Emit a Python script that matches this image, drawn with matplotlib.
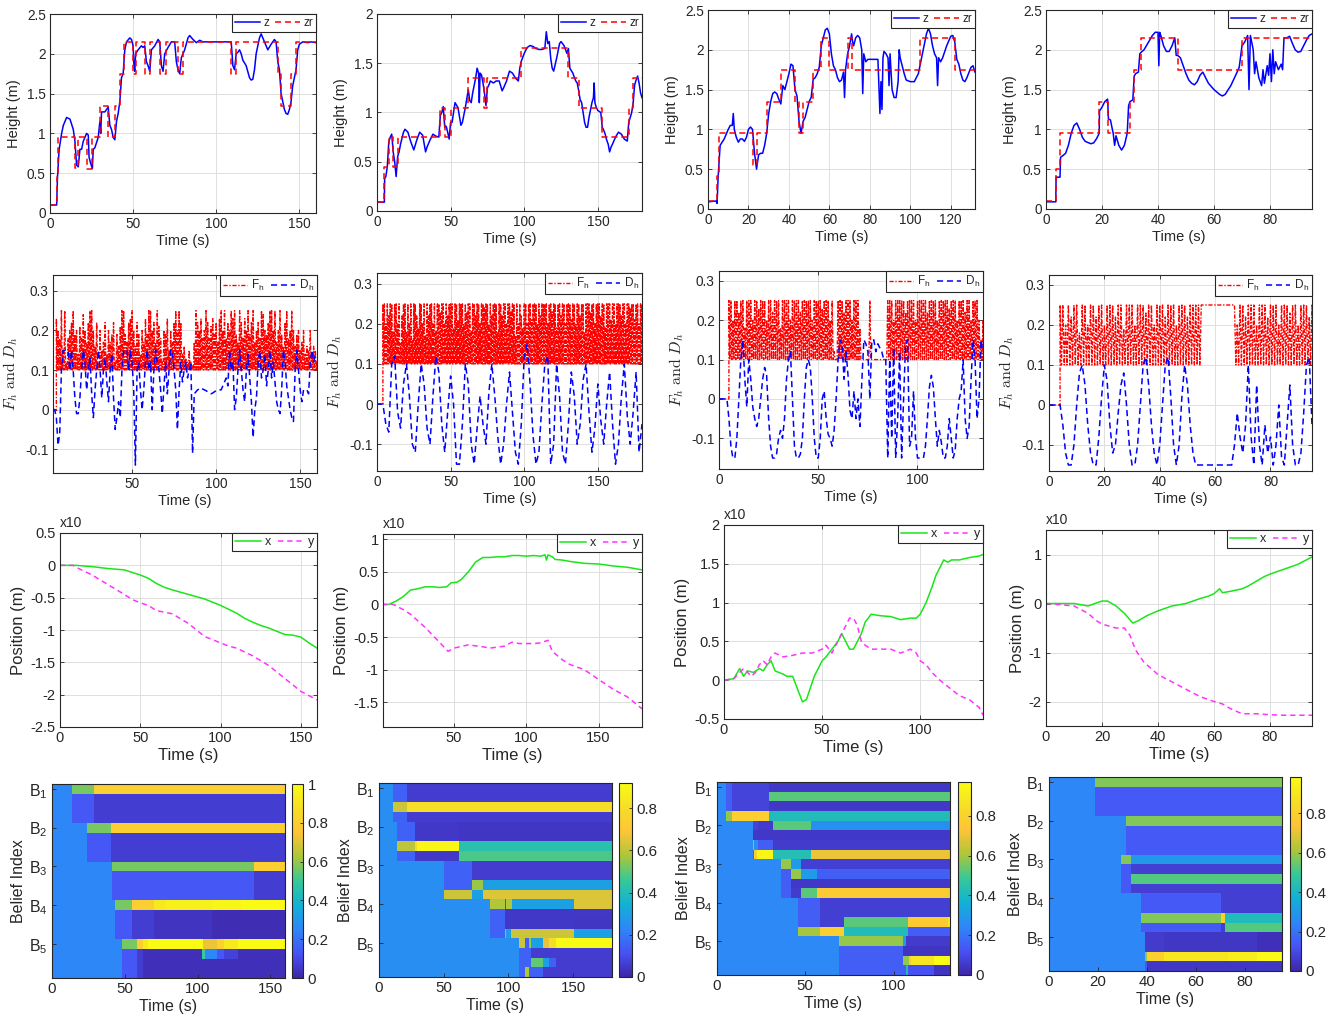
import numpy as np
import matplotlib
matplotlib.use('Agg')
import matplotlib.pyplot as plt
from matplotlib.colors import LinearSegmentedColormap, Normalize
from matplotlib.ticker import FuncFormatter

plt.rcParams['font.family'] = ['Liberation Sans', 'DejaVu Sans']
plt.rcParams['mathtext.fontset'] = 'cm'
plt.rcParams['axes.unicode_minus'] = False

# ---------------------------------------------------------------- data
T_END = [160, 180, 132, 95]

# Row 1: height z (t, value) and reference zr steps (t_start, value)
Z0 = [(0,0.1),(4,0.1),(4.5,0.45),(5.5,0.8),(7,1.0),(8,1.1),(10,1.2),(12,1.18),(14,1.05),(15,0.9),(16,0.6),(17,0.58),
      (18,0.8),(19,0.8),(20,0.9),(22,1.0),(23,0.98),(23.5,0.7),(24.5,0.62),(25.5,0.56),(26,0.8),(27,0.82),(29,0.95),
      (30,1.15),(30.5,1.0),(31,1.27),(33,1.27),(35,1.33),(36,1.1),(37,1.05),(38,0.95),(39,0.92),(40,1.15),(41,1.25),
      (42,1.4),(43,1.7),(44,1.75),(45,2.05),(46,2.15),(48,2.2),(49,2.18),(50,2.1),(50.5,1.85),(51,1.78),(51.5,2.0),
      (53,2.05),(55,2.1),(56,2.08),(57,2.1),(58,1.9),(59,1.85),(60,1.78),(61,2.05),(63,2.1),(65,2.18),(66,2.15),
      (67,1.85),(68,1.78),(69,2.0),(71,2.08),(73,2.15),(75,2.15),(76,1.9),(77,1.8),(78,1.75),(79,1.95),(81,2.05),
      (83,2.2),(84,2.23),(86,2.18),(88,2.14),(90,2.17),(92,2.15),(100,2.15),(109,2.15),(110,1.85),(111,1.8),(112,2.0),
      (113,2.02),(114,2.05),(115,2.0),(116,1.92),(118,1.85),(120,1.7),(121,1.67),(122,1.68),(123,1.8),(124,2.0),
      (126,2.2),(127,2.25),(128,2.2),(130,2.1),(131,2.05),(133,2.12),(135,2.18),(136,2.15),(137,1.9),(138,1.8),
      (139,1.5),(140,1.4),(141,1.3),(142,1.25),(143,1.24),(144,1.3),(145,1.4),(146,1.6),(147,1.7),(148,1.8),
      (149,2.05),(150,2.12),(152,2.15),(155,2.14),(157,2.15),(160,2.14)]
ZR0 = [(0,0.1),(4.5,0.45),(5,0.95),(15,0.57),(17,0.95),(22,0.55),(25.5,0.95),(30,1.35),(35,0.95),(39,1.35),(42,1.75),
       (44.5,2.15),(50,1.75),(52,2.15),(57,1.75),(60,2.15),(66,1.75),(70,2.15),(77,1.75),(80,2.15),(109,1.75),
       (112,2.15),(137,1.75),(139,1.35),(145,1.75),(148,2.15),(160,2.15)]

Z1 = [(0,0.09),(5,0.09),(5.2,0.33),(6,0.35),(7,0.45),(8,0.7),(9,0.75),(10,0.78),(11,0.6),(12,0.5),(13,0.35),(14,0.55),
      (15,0.6),(16,0.68),(18,0.8),(19,0.83),(21,0.8),(23,0.7),(25,0.62),(27,0.72),(29,0.8),(31,0.77),(33,0.6),(34,0.65),
      (36,0.72),(38,0.78),(40,0.76),(42,0.75),(43,0.97),(44,1.0),(45,1.06),(46,0.85),(47,0.86),(48,0.8),(49,0.73),
      (50,0.9),(51,0.9),(52,1.0),(53,1.1),(55,1.05),(57,0.87),(58,0.9),(60,1.05),(62,1.23),(63,1.12),(64,1.1),
      (65,1.2),(67,1.35),(68,1.45),(69,1.4),(69.5,1.1),(70,1.4),(71,1.38),(72,1.3),(73,1.2),(74,1.07),(75,1.25),
      (76,1.28),(77,1.32),(79,1.3),(81,1.32),(83,1.32),(85,1.22),(86,1.25),(88,1.32),(90,1.42),(92,1.4),(94,1.35),
      (96,1.32),(97,1.45),(98,1.52),(100,1.6),(102,1.66),(104,1.68),(106,1.67),(108,1.65),(110,1.64),(112,1.64),
      (114,1.65),(115,1.82),(116,1.7),(117,1.72),(118,1.55),(119,1.45),(120,1.42),(122,1.55),(124,1.7),(125,1.72),
      (127,1.68),(129,1.6),(130,1.65),(131,1.45),(133,1.4),(135,1.32),(136,1.3),(137,1.22),(138,1.13),(139,1.1),
      (140,1.0),(141,0.9),(142,0.85),(143,0.85),(144,0.95),(146,1.1),(147,1.15),(147.5,1.3),(148,1.1),(149,1.05),
      (150,1.02),(152,1.0),(153,0.85),(154,0.82),(155,0.78),(156,0.72),(157,0.68),(158,0.6),(159,0.65),(160,0.68),
      (162,0.75),(164,0.8),(166,0.78),(168,0.73),(170,0.71),(171,0.9),(172,0.95),(173,1.0),(174,1.1),(175,1.28),
      (176,1.33),(177,1.37),(178,1.3),(179,1.2),(180,1.15)]
ZR1 = [(0,0.09),(5,0.45),(8,0.75),(11,0.45),(14,0.75),(43,1.05),(46,0.75),(50,1.05),(62,1.35),(73,1.05),(75,1.35),
       (98,1.65),(130,1.35),(137,1.05),(153,0.75),(171,1.05),(174,1.35),(180,1.35)]

Z2 = [(0,0.09),(4,0.1),(4.5,0.07),(5,0.4),(6,0.8),(8,0.88),(10,1.0),(11,1.05),(12,1.05),(12.5,1.2),(13,1.0),(14,0.9),
      (15,0.84),(16,0.88),(17,0.88),(18,0.85),(19,0.9),(20,1.0),(21,1.03),(22,1.0),(23,0.7),(24,0.5),(25,0.68),
      (26,0.7),(27,0.7),(28,0.8),(29,0.95),(30,1.2),(31,1.35),(32,1.45),(33,1.47),(34,1.45),(35,1.38),(36,1.32),
      (37,1.55),(38,1.5),(39,1.6),(40,1.7),(41,1.82),(42,1.8),(43,1.5),(44,1.42),(45,1.1),(46,0.95),(47,1.1),
      (48,1.15),(49,1.25),(50,1.35),(51,1.4),(52,1.63),(53,1.65),(54,1.7),(55,1.78),(56,2.05),(57,2.15),(58,2.25),
      (59,2.27),(60,2.2),(61,1.95),(62,1.8),(63,1.75),(64,1.65),(65,1.6),(66,1.62),(67,1.72),(67.5,1.4),(68,1.75),
      (69,1.95),(70,2.05),(71,2.2),(71.5,2.1),(72,2.05),(73,2.15),(74,2.18),(75,2.15),(76,2.0),(76.5,1.45),(77,1.95),
      (78,1.85),(79,1.88),(80,1.88),(82,1.88),(84,1.88),(85,1.2),(85.5,1.6),(86,1.25),(86.5,1.9),(87,1.98),(88,1.95),
      (89,1.9),(89.5,1.55),(90,1.95),(91,1.5),(92,1.4),(93,1.4),(94,1.6),(94.5,2.0),(95,1.9),(96,1.8),(97,1.7),
      (98,1.62),(100,1.6),(102,1.6),(104,1.7),(106,1.95),(108,2.2),(109,2.27),(110,2.2),(111,2.05),(112,1.95),
      (113,1.9),(113.5,1.55),(114,1.9),(115,1.85),(116,1.9),(118,2.05),(120,2.17),(121,2.18),(122,2.1),(123,1.88),
      (124,1.82),(125,1.7),(126,1.62),(127,1.6),(128,1.65),(130,1.78),(131,1.8),(132,1.72)]
ZR2 = [(0,0.1),(4.5,0.42),(5.5,0.95),(22,0.55),(24,0.95),(29,1.35),(36,1.75),(43,1.35),(45,0.95),(47,1.35),(52,1.75),
       (56,2.15),(60,1.75),(69,2.15),(71,1.75),(105,2.15),(122,1.75),(132,1.75)]

Z3 = [(0,0.09),(3.5,0.09),(3.6,0.4),(5,0.4),(5.2,0.65),(6,0.67),(7,0.7),(8,0.8),(9,0.95),(10,1.05),(11,1.08),(12,1.0),
      (13,0.9),(14,0.85),(16,0.82),(17,0.83),(18,0.88),(19,0.95),(19.1,1.23),(20,1.28),(21,1.35),(22,1.38),(22.3,1.13),
      (23,1.12),(24,0.95),(24.5,0.8),(25,0.92),(26,0.8),(27,0.74),(28,0.8),(29,0.95),(29.5,1.3),(30,1.35),(31,1.37),
      (31.5,1.67),(32,1.7),(33,1.72),(33.5,1.95),(34,1.97),(35,2.0),(37,2.12),(38,2.18),(39,2.22),(40,2.22),(40.3,1.8),
      (40.6,2.22),(41,2.18),(42,2.05),(43,1.98),(44,1.98),(45,2.05),(46,2.15),(46.5,1.93),(47,1.93),(48,1.9),(49,1.8),
      (50,1.7),(51,1.62),(52,1.58),(53,1.56),(54,1.6),(55,1.68),(56,1.72),(57,1.65),(58,1.58),(60,1.5),(62,1.44),
      (63,1.42),(64,1.44),(66,1.55),(68,1.7),(69,1.78),(70,2.05),(71,2.1),(72,2.18),(72.5,1.5),(73,2.18),(74,2.0),
      (74.5,1.7),(75,1.85),(76,1.65),(77,1.55),(77.5,1.75),(78,1.58),(79,1.8),(79.5,1.68),(80,1.95),(80.5,1.6),
      (81,2.0),(81.5,1.7),(82,1.85),(83,1.75),(84,1.82),(84.5,1.75),(85,2.15),(86,2.15),(87,2.17),(88,2.08),(89,2.0),
      (90,1.97),(91,1.98),(92,2.05),(93,2.12),(94,2.18),(95,2.2)]
ZR3 = [(0,0.1),(3.5,0.5),(5,0.95),(19,1.35),(22,0.95),(30,1.35),(31.5,1.75),(34,2.15),(47,1.75),(70,2.15),(95,2.15)]

# Row 2: F_h peaks (one per second from FH_T0), floor level, holds; D_h one per DH_DT from DH_T0
FH_FLOOR = 0.1
FH_T0 = [5, 4, 5, 4]
FH0 = [0.23,0.2,0.18,0.25,0.15,0.25,0.12,0.18,0.2,0.22, 0.25,0.19,0.2,0.14,0.21,0.18,0.24,0.2,0.17,0.22,
       0.25,0.25,0.2,0.16,0.22,0.12,0.2,0.15,0.17,0.22, 0.14,0.2,0.17,0.19,0.22,0.12,0.19,0.16,0.21,0.25,
       0.25,0.19,0.17,0.22,0.23,0.25,0.2,0.16,0.22,0.19, 0.14,0.2,0.17,0.23,0.19,0.25,0.25,0.2,0.22,0.17,
       0.25,0.21,0.18,0.12,0.2,0.19,0.23,0.15,0.2,0.17, 0.22,0.25,0.2,0.25,0.22,0.14,0.16,0.13,0.12,0.15,
       0.12,0.11,0.17,0.25,0.22,0.2,0.23,0.18,0.2,0.25, 0.22,0.18,0.21,0.23,0.19,0.22,0.17,0.23,0.25,0.2,
       0.25,0.18,0.22,0.2,0.25,0.23,0.25,0.19,0.17,0.25, 0.22,0.18,0.23,0.2,0.25,0.19,0.22,0.25,0.17,0.2,
       0.22,0.18,0.25,0.24,0.2,0.19,0.22,0.25,0.25,0.2, 0.25,0.17,0.2,0.25,0.19,0.16,0.22,0.25,0.18,0.2,
       0.25,0.2,0.16,0.19,0.2,0.15,0.17,0.2,0.14,0.16, 0.15,0.2,0.14,0.16,0.15,0.12]
FH1 = [0.25,0.25,0.2,0.25,0.22,0.25,0.25,0.18,0.25,0.25, 0.2,0.25,0.15,0.22,0.25,0.25,0.18,0.25,0.2,0.25,
       0.16,0.25,0.25,0.22,0.19,0.25,0.25,0.2,0.25,0.17, 0.25,0.22,0.25,0.25,0.2,0.25,0.18,0.25,0.25,0.23,
       0.25,0.25,0.2,0.25,0.22,0.25,0.25,0.25,0.19,0.25, 0.25,0.21,0.25,0.25,0.25,0.2,0.25,0.23,0.25,0.25,
       0.18,0.25,0.25,0.22,0.25,0.25,0.2,0.25,0.25,0.24, 0.25,0.25,0.2,0.25,0.22,0.25,0.25,0.25,0.18,0.25,
       0.25,0.22,0.25,0.25,0.2,0.25,0.25,0.23,0.25,0.25, 0.17,0.25,0.2,0.25,0.22,0.19,0.25,0.25,0.2,0.25,
       0.25,0.21,0.25,0.25,0.25,0.2,0.25,0.22,0.25,0.25, 0.25,0.25,0.2,0.25,0.25,0.23,0.25,0.25,0.19,0.25,
       0.25,0.22,0.25,0.25,0.2,0.25,0.25,0.25,0.21,0.25, 0.25,0.2,0.25,0.25,0.22,0.25,0.25,0.18,0.25,0.25,
       0.25,0.23,0.25,0.25,0.2,0.25,0.25,0.25,0.22,0.25, 0.25,0.19,0.25,0.25,0.25,0.21,0.25,0.25,0.2,0.25,
       0.25,0.25,0.22,0.25,0.25,0.2,0.25,0.25,0.24,0.25, 0.25,0.21,0.25,0.25,0.2,0.25,0.25]
FH2 = [0.25,0.25,0.2,0.25,0.25,0.22,0.25,0.25,0.18,0.25, 0.25,0.25,0.2,0.25,0.25,0.23,0.25,0.25,0.25,0.2,
       0.25,0.25,0.22,0.25,0.25,0.25,0.18,0.25,0.25,0.25, 0.25,0.2,0.25,0.25,0.25,0.25,0.22,0.25,0.25,0.25,
       0.25,0.25,0.2,0.25,0.25,0.25,0.25,0.23,0.25,0.25, 0.25,0.2,0.25,0.12,0.1,0.25,0.25,0.25,0.22,0.25,
       0.25,0.25,0.2,0.25,0.25,0.25,0.18,0.1,0.1,0.1, 0.1,0.25,0.1,0.1,0.1,0.1,0.1,0.1,0.1,0.1,
       0.25,0.25,0.25,0.2,0.25,0.25,0.25,0.25,0.25,0.22, 0.25,0.25,0.25,0.25,0.2,0.25,0.25,0.25,0.25,0.25,
       0.22,0.25,0.25,0.25,0.25,0.2,0.25,0.25,0.25,0.25, 0.25,0.23,0.25,0.25,0.25,0.2,0.25,0.25,0.25,0.22,
       0.25,0.25,0.2,0.25,0.25,0.25,0.2,0.15,0.2]
FH3 = [0.25,0.25,0.2,0.25,0.22,0.25,0.25,0.18,0.25,0.25, 0.2,0.25,0.25,0.22,0.25,0.25,0.2,0.25,0.25,0.25,
       0.22,0.25,0.25,0.19,0.25,0.25,0.25,0.2,0.25,0.25, 0.25,0.23,0.25,0.25,0.2,0.25,0.25,0.25,0.22,0.25,
       0.25,0.25,0.2,0.25,0.25,0.25,0.22,0.25,0.25,0.25, 0.25,0.25,0.25,0.25,0.25,0.25,0.25,0.25,0.25,0.25,
       0.25,0.25,0.25,0.25,0.2,0.25,0.25,0.22,0.25,0.25, 0.25,0.2,0.25,0.25,0.25,0.22,0.25,0.25,0.25,0.2,
       0.25,0.25,0.25,0.23,0.25,0.25,0.2,0.25,0.25,0.25, 0.22,0.25]
FH_HOLDS = [[], [], [], [(55, 67, 0.25)]]

DH_T0 = [3, 0, 0, 0]
DH_DT = [1, 2, 1, 1]
DH0 = [0,0,-0.02,-0.09,-0.06,0.1,0.15,0.15,0.15,0.15,0.1,0.15,0.1,0.03,-0.01,-0.01,0.03,0.1,0.15,0.12,0.05,0.1,0.13,
       0.04,-0.02,0.05,0.1,0.15,0.1,0.03,0.1,0.13,0.07,0.02,0.1,0.14,0.03,-0.05,-0.02,0.02,-0.02,0.1,0.15,0.15,0.15,
       0.1,0.15,0.12,0.05,-0.14,0.1,0.12,0.05,0.0,0.05,0.12,0.15,0.1,0.12,0.0,0.1,0.15,0.12,0.1,0.05,-0.01,0.06,0.12,
       0.04,0.1,0.15,0.15,0.1,0.05,-0.05,0.05,0.12,0.07,0.1,0.12,0.08,0.1,0.12,-0.11,0.04,0.045,0.05,0.052,0.055,0.052,
       0.05,0.048,0.045,0.042,0.04,0.042,0.045,0.048,0.05,0.05,0.05,0.06,0.07,0.08,0.06,0.15,0.1,0.12,0.0,0.03,0.1,
       0.15,0.1,0.05,0.02,0.1,0.14,0.08,0.02,-0.07,0.0,0.03,0.12,0.15,0.08,0.1,0.14,0.06,0.1,0.15,0.08,0.12,0.07,0.02,
       0.0,-0.01,0.05,0.15,0.12,0.06,0.03,0.0,-0.02,-0.03,0.1,0.15,0.1,0.05,0.02,0.05,0.05,0.05,0.04,0.12,0.15,0.12,0.14]
DH1 = [0,0,0,-0.05,-0.07,0.1,0.12,-0.02,-0.06,0.05,0.1,0.02,-0.1,-0.12,0.0,0.1,0.05,-0.06,-0.1,0.02,0.12,0.08,-0.05,
       -0.12,-0.02,0.07,0.0,-0.15,-0.15,-0.05,0.1,0.05,-0.1,-0.15,-0.06,0.02,-0.05,-0.1,0.03,0.1,0.02,-0.08,-0.15,-0.1,
       0.0,0.08,-0.02,-0.12,-0.15,-0.05,0.12,0.15,0.05,-0.08,-0.15,-0.12,0.0,0.1,0.12,-0.15,-0.1,0.1,0.02,-0.12,-0.15,
       -0.05,0.08,0.02,-0.1,-0.05,0.06,0.1,-0.02,-0.12,-0.06,0.05,-0.04,-0.1,0.0,0.08,-0.05,-0.15,-0.1,0.02,0.1,-0.03,
       -0.1,-0.02,0.08,-0.12,-0.05]
DH2 = [0,0,0,0,0,-0.05,-0.12,-0.15,-0.15,-0.1,0.0,0.1,0.15,0.05,-0.02,0.1,0.05,-0.02,-0.05,-0.07,-0.05,0.0,0.05,0.08,
       0.06,-0.05,-0.12,-0.15,-0.15,-0.14,-0.1,-0.08,-0.1,-0.05,0.05,0.1,0.12,0.0,-0.12,-0.15,-0.15,-0.14,-0.1,0.0,
       0.08,0.1,0.08,0.0,-0.1,-0.15,-0.15,-0.1,0.0,0.02,-0.05,-0.09,-0.1,-0.12,-0.08,0.0,0.1,0.15,0.14,0.05,0.12,0.06,
       -0.03,-0.05,0.02,-0.05,0.0,-0.07,0.05,0.15,0.14,0.12,0.0,0.15,0.15,0.12,0.14,0.13,0.12,0.1,0.1,-0.15,0.1,-0.1,
       0.13,-0.15,-0.05,0.12,-0.15,0.0,0.14,0.15,-0.12,-0.1,0.02,-0.1,-0.15,-0.15,-0.15,-0.15,-0.12,-0.05,0.03,0.06,
       0.03,-0.05,-0.12,-0.08,-0.11,-0.15,-0.15,-0.12,-0.05,-0.1,-0.15,-0.13,-0.05,0.0,0.02,0.1,-0.05,-0.1,-0.07,0.05,
       0.15,0.1,-0.05,0.0,0.15,0.12]
DH3 = [0,0,0,0,0,-0.05,-0.12,-0.15,-0.15,-0.1,0.0,0.08,0.1,0.05,-0.05,-0.12,-0.15,-0.15,-0.08,0.02,0.1,0.06,-0.05,
       -0.12,-0.1,-0.02,0.05,0.08,0.0,-0.1,-0.15,-0.15,-0.1,0.0,0.1,0.12,0.05,-0.05,-0.12,-0.15,-0.1,0.0,0.1,0.12,0.02,
       -0.1,-0.15,-0.1,0.02,0.1,0.05,-0.05,-0.12,-0.15,-0.15,-0.15,-0.15,-0.15,-0.15,-0.15,-0.15,-0.15,-0.15,-0.15,
       -0.15,-0.15,-0.15,-0.1,-0.02,-0.08,-0.12,-0.05,0.1,-0.08,-0.15,0.05,-0.1,-0.15,-0.05,-0.12,-0.08,-0.15,-0.1,0.0,
       -0.13,-0.15,-0.05,0.05,-0.1,-0.15,-0.15,-0.12,-0.02,0.1,0.12,-0.05]

# Row 3: position x, y (t, value)
X0 = [(0,0),(10,0),(20,-0.02),(30,-0.05),(40,-0.07),(50,-0.15),(55,-0.2),(60,-0.28),(65,-0.34),(70,-0.38),(80,-0.45),
      (90,-0.52),(95,-0.57),(100,-0.62),(105,-0.68),(110,-0.74),(115,-0.82),(120,-0.88),(125,-0.93),(130,-0.97),
      (135,-1.02),(140,-1.07),(145,-1.08),(150,-1.11),(155,-1.2),(160,-1.28)]
Y0 = [(0,0),(8,0),(10,-0.03),(20,-0.15),(30,-0.3),(40,-0.45),(45,-0.53),(50,-0.58),(55,-0.62),(60,-0.7),(70,-0.75),
      (80,-0.9),(90,-1.1),(95,-1.15),(100,-1.2),(105,-1.25),(110,-1.28),(120,-1.4),(130,-1.55),(140,-1.75),
      (150,-1.95),(160,-2.08)]
X1 = [(0,0),(5,0),(10,0.05),(15,0.12),(20,0.22),(25,0.24),(30,0.27),(35,0.27),(40,0.26),(45,0.27),(48,0.33),(52,0.34),
      (55,0.38),(60,0.5),(65,0.65),(70,0.72),(75,0.72),(80,0.73),(85,0.73),(90,0.75),(95,0.75),(100,0.74),(105,0.75),
      (110,0.74),(113,0.76),(114,0.68),(115,0.76),(118,0.73),(120,0.69),(125,0.68),(130,0.66),(140,0.63),(150,0.62),
      (160,0.59),(170,0.57),(180,0.53)]
Y1 = [(0,0),(8,0),(15,-0.08),(20,-0.15),(30,-0.35),(40,-0.58),(46,-0.72),(50,-0.67),(60,-0.62),(70,-0.65),(75,-0.67),
      (85,-0.64),(90,-0.58),(95,-0.6),(100,-0.6),(105,-0.6),(110,-0.59),(115,-0.55),(118,-0.72),(125,-0.85),
      (130,-0.92),(140,-1.0),(150,-1.15),(160,-1.3),(170,-1.42),(180,-1.6)]
X2 = [(0,0),(5,0.02),(8,0.15),(10,0.05),(12,0.12),(15,0.1),(18,0.15),(20,0.12),(22,0.2),(24,0.25),(26,0.12),(28,0.1),
      (30,0.08),(32,0.05),(35,0.05),(38,-0.15),(40,-0.28),(42,-0.25),(44,-0.1),(46,0.05),(48,0.15),(50,0.25),(52,0.3),
      (55,0.4),(58,0.5),(60,0.6),(62,0.5),(64,0.4),(66,0.4),(68,0.5),(70,0.6),(72,0.75),(75,0.85),(80,0.83),(85,0.82),
      (90,0.78),(95,0.8),(98,0.8),(100,0.85),(103,1.0),(106,1.2),(108,1.35),(110,1.45),(112,1.55),(114,1.52),
      (116,1.55),(120,1.55),(125,1.58),(130,1.6),(132,1.62)]
Y2 = [(0,0),(5,0.02),(8,0.1),(10,0.15),(12,0.1),(14,0.05),(16,0.1),(18,0.2),(20,0.25),(22,0.2),(24,0.3),(26,0.35),
      (30,0.3),(35,0.32),(40,0.35),(45,0.35),(50,0.4),(52,0.45),(55,0.35),(58,0.5),(60,0.6),(62,0.7),(64,0.8),
      (66,0.8),(68,0.7),(70,0.5),(72,0.45),(75,0.4),(80,0.4),(85,0.4),(90,0.35),(95,0.4),(98,0.35),(100,0.25),
      (103,0.2),(106,0.1),(110,0.0),(115,-0.1),(120,-0.2),(125,-0.25),(130,-0.35),(132,-0.45)]
X3 = [(0,0),(10,0),(15,-0.05),(20,0.05),(22,0.05),(25,-0.05),(28,-0.2),(31,-0.4),(33,-0.35),(36,-0.25),(40,-0.15),
      (45,-0.05),(50,0.0),(55,0.1),(58,0.15),(60,0.2),(62,0.3),(63,0.22),(66,0.25),(70,0.3),(72,0.35),(75,0.45),
      (78,0.55),(80,0.6),(85,0.7),(90,0.8),(95,0.95)]
Y3 = [(0,0),(10,-0.05),(15,-0.2),(18,-0.35),(20,-0.42),(25,-0.5),(28,-0.5),(30,-0.65),(32,-0.95),(35,-1.2),(38,-1.35),
      (40,-1.45),(45,-1.6),(50,-1.75),(55,-1.9),(60,-2.0),(63,-2.05),(66,-2.15),(70,-2.25),(75,-2.25),(80,-2.27),
      (85,-2.28),(90,-2.28),(95,-2.28)]

# Row 4: belief heatmaps, 20 rows each, segments (t_start, value)
HM0 = [[(0,.25),(14,.57),(28.6,.8)]] + [[(0,.25),(14,.14),(28.6,.07)]] * 3 + \
      [[(0,.25),(23.7,.57),(40.2,.8)]] + [[(0,.25),(23.7,.14),(40.2,.07)]] * 3 + \
      [[(0,.25),(41.5,.57),(139,.8)]] + [[(0,.25),(41.5,.14),(139,.07)]] * 3 + \
      [[(0,.25),(43.4,.57),(54.8,.8),(70,.92),(78,.95),(110,.97),(130,1.0)]] + \
      [[(0,.25),(43.4,.14),(54.8,.07),(70,.04),(110,.02)]] * 3 + \
      [[(0,.25),(48.4,.57),(58.5,.8),(62.4,.93),(66,1.0),(104,.72),(113,.82),(118,.92),(128,1.0)],
       [(0,.25),(48.4,.14),(58.5,.07),(62.4,.03),(103,.5),(105,.25),(113,.14),(118,.08),(128,.03)],
       [(0,.25),(48.4,.14),(58.5,.07),(62.4,.03)],
       [(0,.25),(48.4,.14),(58.5,.07),(62.4,.03)]]
HM1 = [[(0,.25),(10.5,.15),(21.6,.06)], [(0,.25),(10.5,.15),(21.6,.06)],
       [(0,.25),(10.5,.62),(21.6,.8)], [(0,.25),(10.5,.15),(21.6,.06)],
       [(0,.25),(14,.15),(28,.05),(62,.04)], [(0,.25),(14,.15),(28,.05),(62,.04)],
       [(0,.25),(14,.6),(28,.78),(29,.9),(62,.42)], [(0,.25),(14,.15),(28,.05),(62,.48)],
       [(0,.25),(50,.15),(72,.06)], [(0,.25),(50,.15),(72,.06)],
       [(0,.25),(50,.15),(72,.56),(80,.3)], [(0,.25),(50,.62),(72,.3),(80,.64)],
       [(0,.25),(86,.58),(97,.1),(98,.58),(103,.3),(151,.64)], [(0,.25),(86,.15),(97,.05)],
       [(0,.25),(86,.15),(97,.05),(151,.04)], [(0,.25),(86,.15),(97,.55),(98,.3),(102,.62),(151,.3)],
       [(0,.25),(108,.62),(113,.15),(116,.55),(117.5,.3),(127,.66),(131,.8),(137,.92)],
       [(0,.25),(108,.15),(117.5,.06)],
       [(0,.25),(108,.15),(117.5,.5),(127,.3),(131,.15),(137,.06)],
       [(0,.25),(108,.15),(113,.58),(116,.15),(127,.06)]]
HM2 = [[(0,.25),(5.2,.15),(8.7,.08),(29.4,.05)], [(0,.25),(5.2,.15),(8.7,.08),(29.4,.52)],
       [(0,.25),(5.2,.15),(8.7,.08),(29.4,.05)], [(0,.25),(5.2,.58),(8.7,.78),(29.4,.42)],
       [(0,.25),(20.2,.08),(23,.06),(31.7,.52),(53.3,.27)], [(0,.25),(20.2,.05)],
       [(0,.25),(20.2,.58),(21,.27),(23,.15),(31.7,.06)],
       [(0,.25),(20.2,.15),(21,.78),(22.5,.95),(31.7,.43),(53.3,.7)],
       [(0,.25),(36,.58),(41.7,.3),(47.5,.07)], [(0,.25),(36,.15),(41.7,.58),(47.5,.3),(56.7,.15)],
       [(0,.25),(36,.15),(41.7,.05)], [(0,.25),(36,.15),(41.7,.06),(47.5,.52),(56.7,.76)],
       [(0,.25),(45.8,.15),(58.5,.07)], [(0,.25),(45.8,.15),(58.5,.07)],
       [(0,.25),(45.8,.15),(58.5,.07),(72,.52),(108,.76),(131,.9)],
       [(0,.25),(45.8,.6),(58.5,.78),(72,.42),(108,.15)],
       [(0,.25),(69,.58),(105.6,.3),(107,.06)], [(0,.25),(69,.15),(105.6,.04)],
       [(0,.25),(69,.15),(105.6,.58),(108.5,.78),(110,.88),(123,.97)],
       [(0,.25),(69,.15),(107,.42),(108,.12),(123,.04)]]
HM3 = [[(0,.25),(18.7,.57)]] + [[(0,.25),(18.7,.14)]] * 3 + \
      [[(0,.25),(31.3,.57)]] + [[(0,.25),(31.3,.14)]] * 3 + \
      [[(0,.25),(29.5,.57),(33.3,.3)], [(0,.25),(29.5,.14),(33.3,.07)],
       [(0,.25),(29.5,.14),(33.3,.52)], [(0,.25),(29.5,.14),(33.3,.07)],
       [(0,.25),(37.6,.14),(70,.07)], [(0,.25),(37.6,.14),(70,.07)],
       [(0,.25),(37.6,.57),(70,.8),(71.8,.42)], [(0,.25),(37.6,.14),(70,.07),(71.8,.52)],
       [(0,.25),(39,.06),(46.7,.05),(85,.03)], [(0,.25),(39,.06),(46.7,.05),(85,.03)],
       [(0,.25),(39,.57),(40,.8),(46.7,.9),(73,.93),(85,.98)], [(0,.25),(39,.14),(40,.05)]]
HM_VMAX = [1.0, 0.92, 0.97, 0.985]
BELIEF_LABELS = [r'$\mathregular{B_1}$', r'$\mathregular{B_2}$', r'$\mathregular{B_3}$',
                 r'$\mathregular{B_4}$', r'$\mathregular{B_5}$']

# ---------------------------------------------------------------- style / layout
W, H = 1335, 1026
AXC = '#262626'
PARULA = [(0.2422, 0.1504, 0.6603), (0.2810, 0.3228, 0.9579), (0.1786, 0.5289, 0.9682),
          (0.0689, 0.6948, 0.8394), (0.2161, 0.7843, 0.5923), (0.6720, 0.7793, 0.2227),
          (0.9970, 0.7659, 0.2199), (0.9650, 0.8700, 0.1500), (0.9769, 0.9839, 0.0805)]
cmap = LinearSegmentedColormap.from_list('parula', PARULA)

BOX1 = [(50, 14, 316, 213), (377, 14, 642, 211), (708, 10, 975, 209), (1046, 10, 1312, 209)]
BOX2 = [(53, 275, 317, 473), (377, 273, 642, 471), (719, 271, 983, 469), (1049, 275, 1312, 471)]
BOX3 = [(60, 533, 317, 727), (383, 534, 642, 727), (724, 525, 983, 719), (1046, 530, 1312, 726)]
BOX4 = [(52, 784, 285, 978), (379, 783, 612, 977), (717, 782, 950, 975), (1049, 777, 1282, 971)]
CBOX = [(292, 784, 303, 978), (619, 783, 632, 977), (958, 782, 971, 975), (1290, 777, 1301, 971)]

fig = plt.figure(figsize=(W / 100, H / 100), dpi=100)


def box(b):
    l, t, r, bt = b
    return [l / W, 1 - bt / H, (r - l) / W, (bt - t) / H]


def fmt(v, p):
    v = round(v, 6)
    return '0' if v == 0 else f'{v:g}'


def style(ax, fs, grid=True):
    for s in ax.spines.values():
        s.set_color(AXC)
        s.set_linewidth(0.8)
    ax.tick_params(direction='in', length=3, width=0.6, colors=AXC, labelsize=fs,
                   top=True, right=True, pad=3)
    ax.xaxis.set_major_formatter(FuncFormatter(fmt))
    ax.yaxis.set_major_formatter(FuncFormatter(fmt))
    if grid:
        ax.grid(True, color='#dedede', lw=0.7)
        ax.set_axisbelow(True)


def legend(ax, fs=8.5):
    lg = ax.legend(loc='upper right', ncol=2, fontsize=fs, frameon=True, fancybox=False,
                   edgecolor=AXC, borderaxespad=0, handlelength=2.1, handletextpad=0.3,
                   columnspacing=0.5, borderpad=0.25, framealpha=1)
    lg.get_frame().set_linewidth(0.8)
    for t in lg.get_texts():
        t.set_color(AXC)


def unzip(pairs):
    return [p[0] for p in pairs], [p[1] for p in pairs]


# Row 1 -------------------------------------------------------------
Z_ALL = [Z0, Z1, Z2, Z3]
ZR_ALL = [ZR0, ZR1, ZR2, ZR3]
Z_YMAX = [2.5, 2.0, 2.5, 2.5]
Z_XT = [[0, 50, 100, 150], [0, 50, 100, 150], [0, 20, 40, 60, 80, 100, 120], [0, 20, 40, 60, 80]]
for i in range(4):
    ax = fig.add_axes(box(BOX1[i]))
    style(ax, 9.8)
    t, v = unzip(Z_ALL[i])
    ax.plot(t, v, color='#0000ff', lw=1.1, label='z')
    tr, vr = unzip(ZR_ALL[i])
    ax.plot(tr, vr, color='#ff0000', lw=1.1, ls=(0, (4, 2.5)), drawstyle='steps-post', label='zr')
    ax.set_xlim(0, T_END[i])
    ax.set_ylim(0, Z_YMAX[i])
    ax.set_xticks(Z_XT[i])
    ax.set_yticks(np.arange(0, Z_YMAX[i] + 0.01, 0.5))
    ax.set_xlabel('Time (s)', fontsize=10.5, color=AXC, labelpad=2)
    ax.set_ylabel('Height (m)', fontsize=10.5, color=AXC, labelpad=4)
    legend(ax)

# Row 2 -------------------------------------------------------------
FH_ALL = [FH0, FH1, FH2, FH3]
DH_ALL = [DH0, DH1, DH2, DH3]
FD_XLIM = [(3, 160), (0, 180), (0, 133), (0, 95)]
FD_YLIM = [(-0.16, 0.34), (-0.167, 0.327), (-0.178, 0.325), (-0.165, 0.325)]
FD_XT = [[50, 100, 150], [0, 50, 100, 150], [0, 50, 100], [0, 20, 40, 60, 80]]
for i in range(4):
    ax = fig.add_axes(box(BOX2[i]))
    style(ax, 9.8)
    x0 = FD_XLIM[i][0]
    tf, vf = [x0, FH_T0[i]], [0.0, 0.0]
    for k, pk in enumerate(FH_ALL[i]):
        tk = FH_T0[i] + k
        fl = FH_FLOOR
        for a, b, hv in FH_HOLDS[i]:
            if a <= tk < b:
                fl = hv
        tf += [tk, tk + 0.5]
        vf += [pk, fl]
    ax.plot(tf, vf, color='#ff0000', lw=1.0, ls=(0, (3, 1.2, 1, 1.2)), label=r'F$_\mathregular{h}$')
    dh = DH_ALL[i]
    td = DH_T0[i] + DH_DT[i] * np.arange(len(dh))
    ax.plot(td, dh, color='#0000ff', lw=1.1, ls=(0, (4, 2.5)), label=r'D$_\mathregular{h}$')
    ax.set_xlim(*FD_XLIM[i])
    ax.set_ylim(*FD_YLIM[i])
    ax.set_xticks(FD_XT[i])
    ax.set_yticks([-0.1, 0, 0.1, 0.2, 0.3])
    ax.set_xlabel('Time (s)', fontsize=10.5, color=AXC, labelpad=2)
    ax.set_ylabel(r'$F_h\ \mathrm{and}\ D_h$', fontsize=11.5, color=AXC, labelpad=4)
    legend(ax)

# Row 3 -------------------------------------------------------------
PX_ALL = [X0, X1, X2, X3]
PY_ALL = [Y0, Y1, Y2, Y3]
P_XLIM = [(0, 160), (1, 180), (0, 132), (0, 95)]
P_YLIM = [(-2.5, 0.5), (-1.88, 1.08), (-0.5, 2.0), (-2.5, 1.5)]
P_XT = [[0, 50, 100, 150], [50, 100, 150], [0, 50, 100], [0, 20, 40, 60, 80]]
P_YT = [np.arange(-2.5, 0.51, 0.5), np.arange(-1.5, 1.01, 0.5), np.arange(-0.5, 2.01, 0.5), [-2, -1, 0, 1]]
for i in range(4):
    ax = fig.add_axes(box(BOX3[i]))
    style(ax, 10.5)
    t, v = unzip(PX_ALL[i])
    ax.plot(t, v, color='#19e619', lw=1.1, label='x')
    t, v = unzip(PY_ALL[i])
    ax.plot(t, v, color='#ff33ff', lw=1.1, ls=(0, (3.5, 2.5)), label='y')
    ax.set_xlim(*P_XLIM[i])
    ax.set_ylim(*P_YLIM[i])
    ax.set_xticks(P_XT[i])
    ax.set_yticks(P_YT[i])
    ax.set_xlabel('Time (s)', fontsize=12, color=AXC, labelpad=2)
    ax.set_ylabel('Position (m)', fontsize=12, color=AXC, labelpad=3)
    ax.text(0.0, 1.015, 'x10', transform=ax.transAxes, fontsize=10, color=AXC, va='bottom', ha='left')
    legend(ax, 9)

# Row 4 -------------------------------------------------------------
HM_ALL = [HM0, HM1, HM2, HM3]
H_XT = [[0, 50, 100, 150], [0, 50, 100, 150], [0, 50, 100], [0, 20, 40, 60, 80]]
DT = 0.1
for i in range(4):
    ax = fig.add_axes(box(BOX4[i]))
    style(ax, 10.8, grid=False)
    ax.tick_params(top=False, right=False)
    rows = HM_ALL[i]
    edges = np.arange(0, T_END[i] + DT / 2, DT)
    centers = (edges[:-1] + edges[1:]) / 2
    M = np.zeros((len(rows), len(centers)))
    for r, segs in enumerate(rows):
        st = np.array([s[0] for s in segs])
        vv = np.array([s[1] for s in segs])
        M[r] = vv[np.searchsorted(st, centers, side='right') - 1]
    norm = Normalize(vmin=0, vmax=HM_VMAX[i])
    mesh = ax.pcolormesh(edges, np.arange(len(rows) + 1), M, cmap=cmap, norm=norm, shading='flat')
    ax.set_xlim(0, T_END[i])
    ax.set_ylim(len(rows), 0)
    ax.set_xticks(H_XT[i])
    ax.set_yticks([0.5, 4.5, 8.5, 12.5, 16.5])
    ax.set_yticklabels(BELIEF_LABELS, fontsize=11.5)
    ax.set_xlabel('Time (s)', fontsize=11.5, color=AXC, labelpad=2)
    ax.set_ylabel('Belief Index', fontsize=11.5, color=AXC, labelpad=2)
    cax = fig.add_axes(box(CBOX[i]))
    cb = fig.colorbar(mesh, cax=cax)
    cb.outline.set_edgecolor(AXC)
    cb.outline.set_linewidth(0.8)
    cb.set_ticks(np.arange(0, HM_VMAX[i] + 0.001, 0.2))
    cax.yaxis.set_major_formatter(FuncFormatter(fmt))
    cax.tick_params(direction='in', length=2.5, width=0.6, colors=AXC, labelsize=10.8)

fig.savefig('out.png', dpi=100)
